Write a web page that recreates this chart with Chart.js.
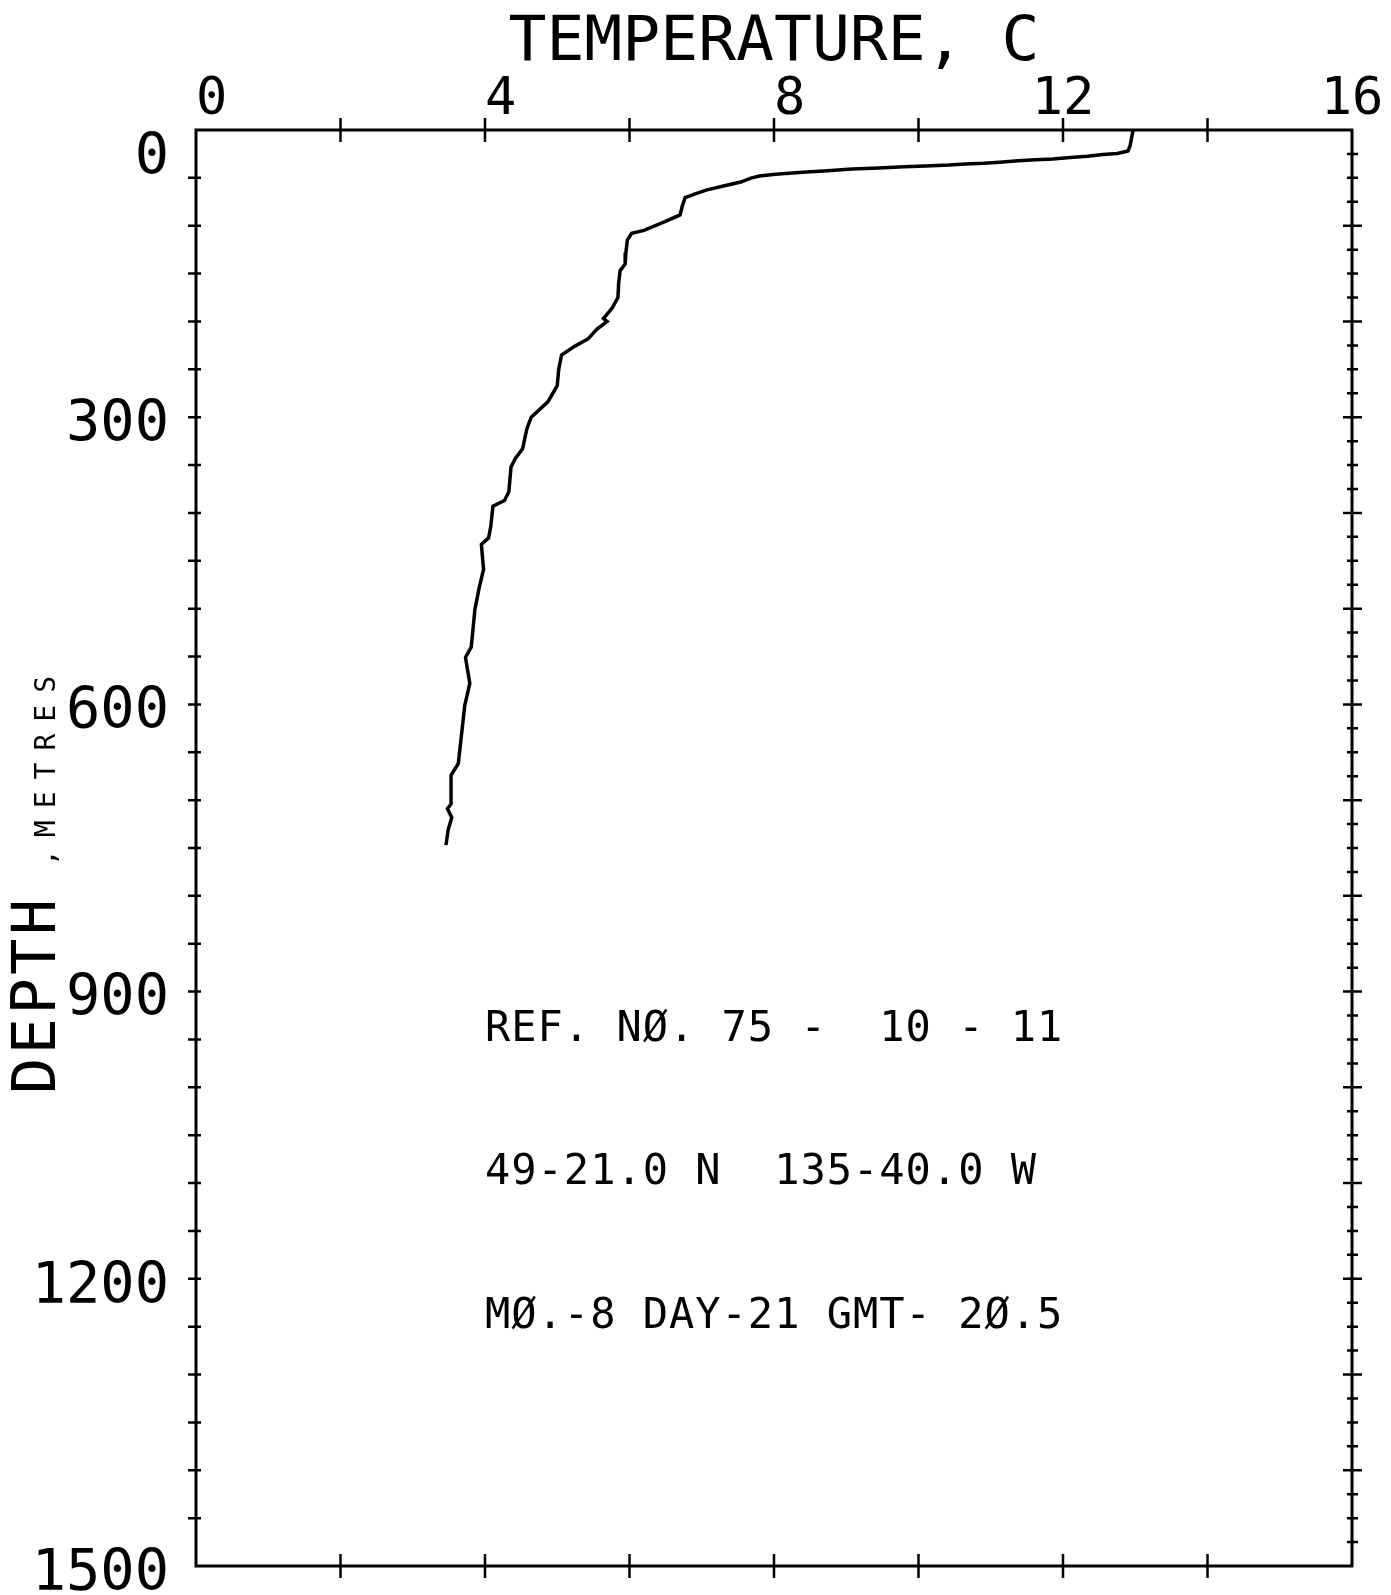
<!DOCTYPE html>
<html>
<head>
<meta charset="utf-8">
<script src="https://cdn.jsdelivr.net/npm/chart.js@4.4.1/dist/chart.umd.min.js"></script>
<style>
html, body { margin: 0; padding: 0; background: #ffffff; }
#wrap { width: 1391px; height: 1595px; position: relative; }
</style>
</head>
<body>
<div id="wrap"><canvas id="c"></canvas></div>
<script>
const temperature = [12.97,12.95,12.93,12.90,12.75,12.55,12.34,12.10,11.86,11.62,
  11.38,11.12,10.90,10.65,10.42,10.10,9.80,9.45,9.08,8.74,
  8.40,8.02,7.80,7.68,7.54,7.30,7.06,6.90,6.77,6.73,
  6.70,6.49,6.20,6.03,5.97,5.95,5.94,5.87,5.85,5.84,
  5.76,5.64,5.69,5.55,5.43,5.24,5.06,5.02,5.00,4.87,
  4.64,4.58,4.52,4.42,4.36,4.33,4.27,4.11,4.08,4.05,
  3.95,3.98,3.92,3.86,3.81,3.73,3.79,3.72,3.67,3.63,
  3.53,3.53,3.48,3.54,3.49,3.46];
const depth = [0,8,16,22,24.5,25.5,27.5,28.8,30.3,31.0,
  32.2,33.6,34.7,35.5,36.6,37.5,38.3,39.8,40.8,42.6,
  44.2,46.2,48.0,50.2,54.4,58.5,62.8,67.0,70.6,79.7,
  88.7,95.8,104.9,108,115,128,140,147,160,175,
  186,197,200,208,218,226,235,250,267,284,
  300,312,333,343,352,378,387,393,414,426,
  433,459,478,501,540,551,578,601,635,662,
  674,704,709,718,731,747];

const xTickLabels = [0, 4, 8, 12, 16];
const yTickLabels = [0, 300, 600, 900, 1200, 1500];
const xTickMarks = [2, 4, 6, 8, 10, 12, 14];
const yLeftTickMarks = [50,100,150,200,250,300,350,400,450,500,550,600,650,700,750,800,850,900,950,1000,1050,1100,1150,1200,1250,1300,1350,1400,1450];
const yRightTickMarks = Array.from({length: 59}, (_, i) => (i + 1) * 25);

const xTitle = 'TEMPERATURE, C';
const yTitleMain = 'DEPTH';
const yTitleUnit = ',METRES';
const annotationLines = ['REF. NØ. 75 -  10 - 11', '49-21.0 N  135-40.0 W', 'MØ.-8 DAY-21 GMT- 2Ø.5'];
const annotationDepths = [940, 1090, 1240];
const annotationTemp = 4;

const points = temperature.map((t, i) => ({x: t, y: depth[i]}));
const FONT = "'DejaVu Sans Mono', monospace";

const plotterPlugin = {
  id: 'plotter',
  afterDraw(chart) {
    const {ctx, chartArea: a, scales: {x, y}} = chart;
    ctx.save();
    ctx.strokeStyle = '#000';
    ctx.fillStyle = '#000';
    ctx.lineWidth = 3;
    ctx.strokeRect(a.left, a.top, a.right - a.left, a.bottom - a.top);
    ctx.lineWidth = 2.5;
    ctx.beginPath();
    xTickMarks.forEach(v => {
      const px = x.getPixelForValue(v);
      ctx.moveTo(px, a.top - 12); ctx.lineTo(px, a.top + 12);
      ctx.moveTo(px, a.bottom - 12); ctx.lineTo(px, a.bottom + 12);
    });
    yLeftTickMarks.forEach(v => {
      const py = y.getPixelForValue(v);
      ctx.moveTo(a.left - 8, py); ctx.lineTo(a.left + 5, py);
    });
    yRightTickMarks.forEach(v => {
      const py = y.getPixelForValue(v);
      const long = v % 100 === 0;
      ctx.moveTo(a.right - (long ? 9 : 5), py); ctx.lineTo(a.right + (long ? 10 : 6), py);
    });
    ctx.stroke();

    // annotation block
    ctx.font = '42px ' + FONT;
    ctx.textAlign = 'left';
    ctx.textBaseline = 'middle';
    try { ctx.letterSpacing = '1px'; } catch (e) {}
    annotationLines.forEach((s, i) => {
      ctx.fillText(s, x.getPixelForValue(annotationTemp), y.getPixelForValue(annotationDepths[i]));
    });

    // rotated y-axis title
    const baseX = 55;
    ctx.textBaseline = 'alphabetic';
    ctx.save();
    ctx.translate(baseX, 1094);
    ctx.rotate(-Math.PI / 2);
    ctx.font = '60px ' + FONT;
    try { ctx.letterSpacing = '3.6px'; } catch (e) {}
    ctx.fillText(yTitleMain, 0, 0);
    ctx.restore();
    ctx.save();
    ctx.translate(baseX, 866);
    ctx.rotate(-Math.PI / 2);
    ctx.font = '28px ' + FONT;
    try { ctx.letterSpacing = '12px'; } catch (e) {}
    ctx.fillText(yTitleUnit, 0, 0);
    ctx.restore();
    ctx.restore();
  }
};

new Chart(document.getElementById('c'), {
  type: 'scatter',
  data: {
    datasets: [{
      data: points,
      showLine: true,
      borderColor: '#000',
      borderWidth: 3.5,
      pointRadius: 0,
      tension: 0,
      fill: false
    }]
  },
  options: {
    responsive: true,
    maintainAspectRatio: false,
    animation: false,
    devicePixelRatio: 1,
    layout: { padding: { top: 0, left: 0, right: 39, bottom: 29 } },
    plugins: { legend: { display: false }, tooltip: { enabled: false }, title: { display: false } },
    scales: {
      x: {
        type: 'linear',
        position: 'top',
        min: 0, max: 16,
        afterFit(scale) { scale.height = 130; scale.paddingLeft = 0; scale.paddingRight = 0; },
        border: { display: false },
        grid: { display: false, drawTicks: false },
        ticks: {
          stepSize: 4,
          autoSkip: false,
          maxRotation: 0,
          padding: 4,
          color: '#000',
          font: { family: FONT, size: 52, lineHeight: 1.0 },
          callback: v => xTickLabels.includes(v) ? (v < 10 ? ' ' + v : String(v)) : ''
        },
        title: {
          display: true,
          text: xTitle,
          color: '#000',
          padding: { top: 12, bottom: 0 },
          font: { family: FONT, size: 63, lineHeight: 1.0 }
        }
      },
      y: {
        type: 'linear',
        position: 'left',
        reverse: true,
        min: 0, max: 1500,
        afterFit(scale) { scale.width = 196; scale.paddingTop = 0; scale.paddingBottom = 0; },
        border: { display: false },
        grid: { display: false, drawTicks: false },
        ticks: {
          stepSize: 300,
          autoSkip: false,
          padding: 27,
          labelOffset: 9,
          color: '#000',
          font: { family: FONT, size: 57, lineHeight: 0.7 },
          callback: v => yTickLabels.includes(v) ? (v === 0 ? ['', '0'] : String(v)) : ''
        }
      }
    }
  },
  plugins: [plotterPlugin]
});
</script>
</body>
</html>
